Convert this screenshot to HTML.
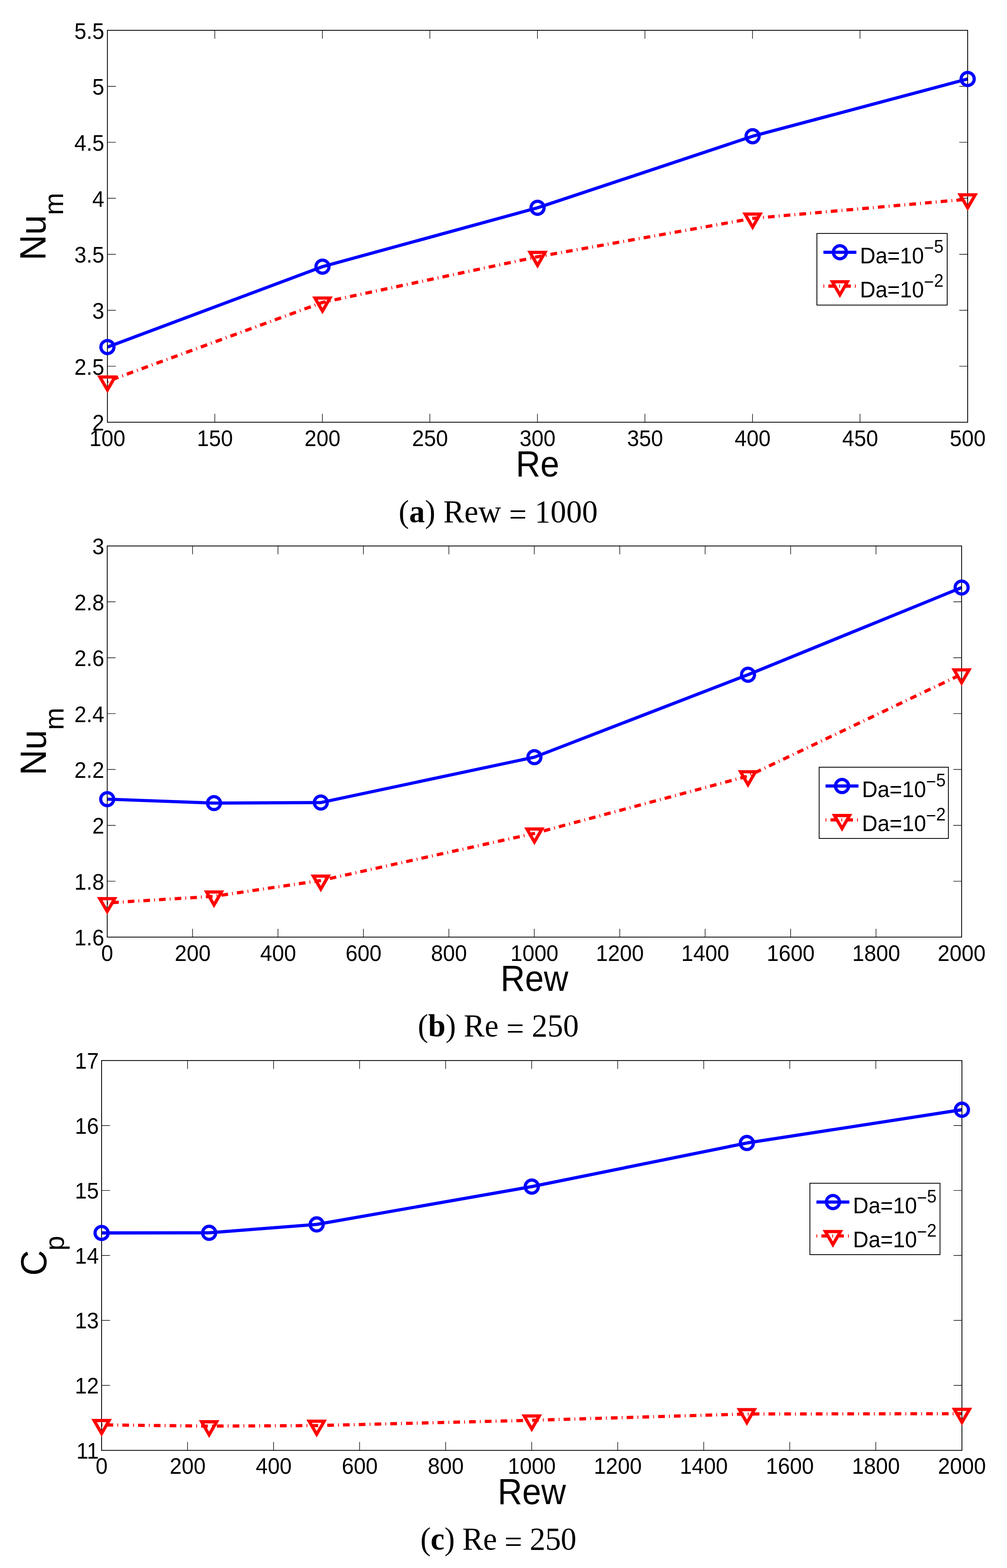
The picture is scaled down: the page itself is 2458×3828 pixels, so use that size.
<!DOCTYPE html>
<html lang="en"><head><meta charset="utf-8"><title>Figure</title>
<style>html,body{margin:0;padding:0;background:#fff}svg{display:block}</style>
</head><body>
<svg width="2458" height="3828" viewBox="0 0 2458 3828">
<rect width="2458" height="3828" fill="#fff"/>
<g id="plot1">
<clipPath id="clip1"><rect x="262.2" y="74" width="2099.8" height="956.8"/></clipPath>
<g clip-path="url(#clip1)" fill="none" stroke-width="7.8" stroke-linejoin="round">
<polyline points="262.2,847.3 787.15,651 1312.1,507.3 1837.05,332.6 2362,192.8" stroke="#0000ff"/>
<polyline points="262.2,930.9 787.15,738.3 1312.1,626.8 1837.05,533.2 2362,486.3" stroke="#ff0000" stroke-dasharray="2 10.05 16.38 10.05"/>
</g>
<path d="M524.38 1030.8v-20.5M524.38 74v20.5M786.85 1030.8v-20.5M786.85 74v20.5M1049.33 1030.8v-20.5M1049.33 74v20.5M1311.8 1030.8v-20.5M1311.8 74v20.5M1574.28 1030.8v-20.5M1574.28 74v20.5M1836.75 1030.8v-20.5M1836.75 74v20.5M2099.22 1030.8v-20.5M2099.22 74v20.5M262.2 894.11h20.5M2362 894.11h-20.5M262.2 757.43h20.5M2362 757.43h-20.5M262.2 620.74h20.5M2362 620.74h-20.5M262.2 484.06h20.5M2362 484.06h-20.5M262.2 347.37h20.5M2362 347.37h-20.5M262.2 210.69h20.5M2362 210.69h-20.5" fill="none" stroke="#000" stroke-width="1.4"/>
<rect x="262.2" y="74" width="2099.8" height="956.8" fill="none" stroke="#000" stroke-width="2"/>
<circle cx="262.2" cy="847.3" r="15.95" fill="none" stroke="#0000ff" stroke-width="7.8"/>
<circle cx="787.15" cy="651" r="15.95" fill="none" stroke="#0000ff" stroke-width="7.8"/>
<circle cx="1312.1" cy="507.3" r="15.95" fill="none" stroke="#0000ff" stroke-width="7.8"/>
<circle cx="1837.05" cy="332.6" r="15.95" fill="none" stroke="#0000ff" stroke-width="7.8"/>
<circle cx="2362" cy="192.8" r="15.95" fill="none" stroke="#0000ff" stroke-width="7.8"/>
<polygon points="243.84,920.3 280.56,920.3 262.2,952.1" fill="none" stroke="#ff0000" stroke-width="7.8" stroke-linejoin="miter" stroke-miterlimit="10"/>
<polygon points="768.79,727.7 805.51,727.7 787.15,759.5" fill="none" stroke="#ff0000" stroke-width="7.8" stroke-linejoin="miter" stroke-miterlimit="10"/>
<polygon points="1293.74,616.2 1330.46,616.2 1312.1,648" fill="none" stroke="#ff0000" stroke-width="7.8" stroke-linejoin="miter" stroke-miterlimit="10"/>
<polygon points="1818.69,522.6 1855.41,522.6 1837.05,554.4" fill="none" stroke="#ff0000" stroke-width="7.8" stroke-linejoin="miter" stroke-miterlimit="10"/>
<polygon points="2343.64,475.7 2380.36,475.7 2362,507.5" fill="none" stroke="#ff0000" stroke-width="7.8" stroke-linejoin="miter" stroke-miterlimit="10"/>
<g fill="#000">
<text transform="translate(262.2 1088.6) scale(1 1.045)" font-family='"Liberation Sans", "DejaVu Sans", sans-serif' font-size="52.6" text-anchor="middle">100</text>
<text transform="translate(524.67 1088.6) scale(1 1.045)" font-family='"Liberation Sans", "DejaVu Sans", sans-serif' font-size="52.6" text-anchor="middle">150</text>
<text transform="translate(787.15 1088.6) scale(1 1.045)" font-family='"Liberation Sans", "DejaVu Sans", sans-serif' font-size="52.6" text-anchor="middle">200</text>
<text transform="translate(1049.62 1088.6) scale(1 1.045)" font-family='"Liberation Sans", "DejaVu Sans", sans-serif' font-size="52.6" text-anchor="middle">250</text>
<text transform="translate(1312.1 1088.6) scale(1 1.045)" font-family='"Liberation Sans", "DejaVu Sans", sans-serif' font-size="52.6" text-anchor="middle">300</text>
<text transform="translate(1574.58 1088.6) scale(1 1.045)" font-family='"Liberation Sans", "DejaVu Sans", sans-serif' font-size="52.6" text-anchor="middle">350</text>
<text transform="translate(1837.05 1088.6) scale(1 1.045)" font-family='"Liberation Sans", "DejaVu Sans", sans-serif' font-size="52.6" text-anchor="middle">400</text>
<text transform="translate(2099.53 1088.6) scale(1 1.045)" font-family='"Liberation Sans", "DejaVu Sans", sans-serif' font-size="52.6" text-anchor="middle">450</text>
<text transform="translate(2362 1088.6) scale(1 1.045)" font-family='"Liberation Sans", "DejaVu Sans", sans-serif' font-size="52.6" text-anchor="middle">500</text>
<text transform="translate(254.5 1051.3) scale(1 1.045)" font-family='"Liberation Sans", "DejaVu Sans", sans-serif' font-size="52.6" text-anchor="end">2</text>
<text transform="translate(254.5 914.61) scale(1 1.045)" font-family='"Liberation Sans", "DejaVu Sans", sans-serif' font-size="52.6" text-anchor="end">2.5</text>
<text transform="translate(254.5 777.93) scale(1 1.045)" font-family='"Liberation Sans", "DejaVu Sans", sans-serif' font-size="52.6" text-anchor="end">3</text>
<text transform="translate(254.5 641.24) scale(1 1.045)" font-family='"Liberation Sans", "DejaVu Sans", sans-serif' font-size="52.6" text-anchor="end">3.5</text>
<text transform="translate(254.5 504.56) scale(1 1.045)" font-family='"Liberation Sans", "DejaVu Sans", sans-serif' font-size="52.6" text-anchor="end">4</text>
<text transform="translate(254.5 367.87) scale(1 1.045)" font-family='"Liberation Sans", "DejaVu Sans", sans-serif' font-size="52.6" text-anchor="end">4.5</text>
<text transform="translate(254.5 231.19) scale(1 1.045)" font-family='"Liberation Sans", "DejaVu Sans", sans-serif' font-size="52.6" text-anchor="end">5</text>
<text transform="translate(254.5 94.5) scale(1 1.045)" font-family='"Liberation Sans", "DejaVu Sans", sans-serif' font-size="52.6" text-anchor="end">5.5</text>
<text transform="translate(1312.1 1163) scale(1 1.075)" font-family='"Liberation Sans", "DejaVu Sans", sans-serif' font-size="83.2" text-anchor="middle">Re</text>
<text transform="translate(111.3 635.7) rotate(-90) scale(1 1.03)" font-family='"Liberation Sans", "DejaVu Sans", sans-serif' font-size="86.6">Nu<tspan font-size="65.2" dy="41.6">m</tspan></text>
</g>
<g>
<rect x="1994" y="569.9" width="318" height="174.9" fill="#fff" stroke="#000" stroke-width="2"/>
<path d="M2009.9 615.8H2090.3" stroke="#0000ff" stroke-width="7.8" fill="none"/>
<path d="M2009.9 698.5H2090.3" stroke="#ff0000" stroke-width="7.8" fill="none" stroke-dasharray="2 10.05 16.38 10.05"/>
<circle cx="2050.1" cy="615.8" r="15.95" fill="none" stroke="#0000ff" stroke-width="7.8"/>
<polygon points="2031.74,687.9 2068.46,687.9 2050.1,719.7" fill="none" stroke="#ff0000" stroke-width="7.8" stroke-linejoin="miter" stroke-miterlimit="10"/>
<text transform="translate(2098.9 643.2) scale(1 1.045)" font-family='"Liberation Sans", "DejaVu Sans", sans-serif' font-size="52.6" fill="#000">Da=10<tspan font-size="42" dy="-22.2">−</tspan><tspan font-size="42" dy="-2.8">5</tspan></text>
<text transform="translate(2098.9 726) scale(1 1.045)" font-family='"Liberation Sans", "DejaVu Sans", sans-serif' font-size="52.6" fill="#000">Da=10<tspan font-size="42" dy="-22.2">−</tspan><tspan font-size="42" dy="-2.8">2</tspan></text>
</g>
</g>
<text transform="translate(973 1274.6) scale(1 1.03)" font-family='"Liberation Serif", "DejaVu Serif", serif' font-size="76.5" fill="#000" textLength="486" lengthAdjust="spacing">(<tspan font-weight="bold">a</tspan>) Rew <tspan dy="7">=</tspan><tspan dy="-7"> 1000</tspan></text>
<g id="plot2">
<clipPath id="clip2"><rect x="261.7" y="1332.9" width="2085.5" height="954.9"/></clipPath>
<g clip-path="url(#clip2)" fill="none" stroke-width="7.75" stroke-linejoin="round">
<polyline points="261.7,1951 522.39,1960.6 783.08,1959.3 1304.45,1848.5 1825.83,1647.2 2347.2,1434.4" stroke="#0000ff"/>
<polyline points="261.7,2204.3 522.39,2188.2 783.08,2149.5 1304.45,2034.5 1825.83,1894.6 2347.2,1645.9" stroke="#ff0000" stroke-dasharray="1.9864 9.9817 16.2686 9.9817"/>
</g>
<path d="M469.95 2287.8v-20.36M469.95 1332.9v20.36M678.5 2287.8v-20.36M678.5 1332.9v20.36M887.05 2287.8v-20.36M887.05 1332.9v20.36M1095.6 2287.8v-20.36M1095.6 1332.9v20.36M1304.15 2287.8v-20.36M1304.15 1332.9v20.36M1512.7 2287.8v-20.36M1512.7 1332.9v20.36M1721.25 2287.8v-20.36M1721.25 1332.9v20.36M1929.8 2287.8v-20.36M1929.8 1332.9v20.36M2138.35 2287.8v-20.36M2138.35 1332.9v20.36M261.7 2151.39h20.36M2347.2 2151.39h-20.36M261.7 2014.97h20.36M2347.2 2014.97h-20.36M261.7 1878.56h20.36M2347.2 1878.56h-20.36M261.7 1742.14h20.36M2347.2 1742.14h-20.36M261.7 1605.73h20.36M2347.2 1605.73h-20.36M261.7 1469.31h20.36M2347.2 1469.31h-20.36" fill="none" stroke="#000" stroke-width="1.4"/>
<rect x="261.7" y="1332.9" width="2085.5" height="954.9" fill="none" stroke="#000" stroke-width="2"/>
<circle cx="261.7" cy="1951" r="15.84" fill="none" stroke="#0000ff" stroke-width="7.75"/>
<circle cx="522.39" cy="1960.6" r="15.84" fill="none" stroke="#0000ff" stroke-width="7.75"/>
<circle cx="783.08" cy="1959.3" r="15.84" fill="none" stroke="#0000ff" stroke-width="7.75"/>
<circle cx="1304.45" cy="1848.5" r="15.84" fill="none" stroke="#0000ff" stroke-width="7.75"/>
<circle cx="1825.83" cy="1647.2" r="15.84" fill="none" stroke="#0000ff" stroke-width="7.75"/>
<circle cx="2347.2" cy="1434.4" r="15.84" fill="none" stroke="#0000ff" stroke-width="7.75"/>
<polygon points="243.47,2193.77 279.93,2193.77 261.7,2225.36" fill="none" stroke="#ff0000" stroke-width="7.75" stroke-linejoin="miter" stroke-miterlimit="10"/>
<polygon points="504.15,2177.67 540.62,2177.67 522.39,2209.26" fill="none" stroke="#ff0000" stroke-width="7.75" stroke-linejoin="miter" stroke-miterlimit="10"/>
<polygon points="764.84,2138.97 801.31,2138.97 783.08,2170.56" fill="none" stroke="#ff0000" stroke-width="7.75" stroke-linejoin="miter" stroke-miterlimit="10"/>
<polygon points="1286.22,2023.97 1322.68,2023.97 1304.45,2055.56" fill="none" stroke="#ff0000" stroke-width="7.75" stroke-linejoin="miter" stroke-miterlimit="10"/>
<polygon points="1807.59,1884.07 1844.06,1884.07 1825.83,1915.66" fill="none" stroke="#ff0000" stroke-width="7.75" stroke-linejoin="miter" stroke-miterlimit="10"/>
<polygon points="2328.97,1635.37 2365.43,1635.37 2347.2,1666.96" fill="none" stroke="#ff0000" stroke-width="7.75" stroke-linejoin="miter" stroke-miterlimit="10"/>
<g fill="#000">
<text transform="translate(261.7 2345.6) scale(1 1.045)" font-family='"Liberation Sans", "DejaVu Sans", sans-serif' font-size="52.6" text-anchor="middle">0</text>
<text transform="translate(470.25 2345.6) scale(1 1.045)" font-family='"Liberation Sans", "DejaVu Sans", sans-serif' font-size="52.6" text-anchor="middle">200</text>
<text transform="translate(678.8 2345.6) scale(1 1.045)" font-family='"Liberation Sans", "DejaVu Sans", sans-serif' font-size="52.6" text-anchor="middle">400</text>
<text transform="translate(887.35 2345.6) scale(1 1.045)" font-family='"Liberation Sans", "DejaVu Sans", sans-serif' font-size="52.6" text-anchor="middle">600</text>
<text transform="translate(1095.9 2345.6) scale(1 1.045)" font-family='"Liberation Sans", "DejaVu Sans", sans-serif' font-size="52.6" text-anchor="middle">800</text>
<text transform="translate(1304.45 2345.6) scale(1 1.045)" font-family='"Liberation Sans", "DejaVu Sans", sans-serif' font-size="52.6" text-anchor="middle">1000</text>
<text transform="translate(1513 2345.6) scale(1 1.045)" font-family='"Liberation Sans", "DejaVu Sans", sans-serif' font-size="52.6" text-anchor="middle">1200</text>
<text transform="translate(1721.55 2345.6) scale(1 1.045)" font-family='"Liberation Sans", "DejaVu Sans", sans-serif' font-size="52.6" text-anchor="middle">1400</text>
<text transform="translate(1930.1 2345.6) scale(1 1.045)" font-family='"Liberation Sans", "DejaVu Sans", sans-serif' font-size="52.6" text-anchor="middle">1600</text>
<text transform="translate(2138.65 2345.6) scale(1 1.045)" font-family='"Liberation Sans", "DejaVu Sans", sans-serif' font-size="52.6" text-anchor="middle">1800</text>
<text transform="translate(2347.2 2345.6) scale(1 1.045)" font-family='"Liberation Sans", "DejaVu Sans", sans-serif' font-size="52.6" text-anchor="middle">2000</text>
<text transform="translate(254.5 2308.3) scale(1 1.045)" font-family='"Liberation Sans", "DejaVu Sans", sans-serif' font-size="52.6" text-anchor="end">1.6</text>
<text transform="translate(254.5 2171.89) scale(1 1.045)" font-family='"Liberation Sans", "DejaVu Sans", sans-serif' font-size="52.6" text-anchor="end">1.8</text>
<text transform="translate(254.5 2035.47) scale(1 1.045)" font-family='"Liberation Sans", "DejaVu Sans", sans-serif' font-size="52.6" text-anchor="end">2</text>
<text transform="translate(254.5 1899.06) scale(1 1.045)" font-family='"Liberation Sans", "DejaVu Sans", sans-serif' font-size="52.6" text-anchor="end">2.2</text>
<text transform="translate(254.5 1762.64) scale(1 1.045)" font-family='"Liberation Sans", "DejaVu Sans", sans-serif' font-size="52.6" text-anchor="end">2.4</text>
<text transform="translate(254.5 1626.23) scale(1 1.045)" font-family='"Liberation Sans", "DejaVu Sans", sans-serif' font-size="52.6" text-anchor="end">2.6</text>
<text transform="translate(254.5 1489.81) scale(1 1.045)" font-family='"Liberation Sans", "DejaVu Sans", sans-serif' font-size="52.6" text-anchor="end">2.8</text>
<text transform="translate(254.5 1353.4) scale(1 1.045)" font-family='"Liberation Sans", "DejaVu Sans", sans-serif' font-size="52.6" text-anchor="end">3</text>
<text transform="translate(1304.45 2419) scale(1 1.075)" font-family='"Liberation Sans", "DejaVu Sans", sans-serif' font-size="82.63" text-anchor="middle">Rew</text>
<text transform="translate(112.2 1892.8) rotate(-90) scale(1 1.03)" font-family='"Liberation Sans", "DejaVu Sans", sans-serif' font-size="86.6">Nu<tspan font-size="65.2" dy="41.6">m</tspan></text>
</g>
<g>
<rect x="1999.5" y="1873" width="315.4" height="173.9" fill="#fff" stroke="#000" stroke-width="2"/>
<path d="M2015.1 1918.9H2095.5" stroke="#0000ff" stroke-width="7.8" fill="none"/>
<path d="M2015.1 2001.6H2095.5" stroke="#ff0000" stroke-width="7.8" fill="none" stroke-dasharray="2 10.05 16.38 10.05"/>
<circle cx="2055.3" cy="1918.9" r="15.95" fill="none" stroke="#0000ff" stroke-width="7.8"/>
<polygon points="2036.94,1991 2073.66,1991 2055.3,2022.8" fill="none" stroke="#ff0000" stroke-width="7.8" stroke-linejoin="miter" stroke-miterlimit="10"/>
<text transform="translate(2104.1 1946.3) scale(1 1.045)" font-family='"Liberation Sans", "DejaVu Sans", sans-serif' font-size="52.6" fill="#000">Da=10<tspan font-size="42" dy="-22.2">−</tspan><tspan font-size="42" dy="-2.8">5</tspan></text>
<text transform="translate(2104.1 2029.1) scale(1 1.045)" font-family='"Liberation Sans", "DejaVu Sans", sans-serif' font-size="52.6" fill="#000">Da=10<tspan font-size="42" dy="-22.2">−</tspan><tspan font-size="42" dy="-2.8">2</tspan></text>
</g>
</g>
<text transform="translate(1019.7 2530.2) scale(1 1.03)" font-family='"Liberation Serif", "DejaVu Serif", serif' font-size="76.5" fill="#000" textLength="393" lengthAdjust="spacing">(<tspan font-weight="bold">b</tspan>) Re <tspan dy="7">=</tspan><tspan dy="-7"> 250</tspan></text>
<g id="plot3">
<clipPath id="clip3"><rect x="248" y="2589.1" width="2100" height="951.7"/></clipPath>
<g clip-path="url(#clip3)" fill="none" stroke-width="7.8" stroke-linejoin="round">
<polyline points="248,3010 510.5,3009.7 773,2989.2 1298,2896.9 1823,2790.45 2348,2709.2" stroke="#0000ff"/>
<polyline points="248,3478.6 510.5,3481.6 773,3480.3 1298,3467.4 1823,3452 2348,3451.25" stroke="#ff0000" stroke-dasharray="2 10.05 16.38 10.05"/>
</g>
<path d="M457.7 3540.8v-20.5M457.7 2589.1v20.5M667.7 3540.8v-20.5M667.7 2589.1v20.5M877.7 3540.8v-20.5M877.7 2589.1v20.5M1087.7 3540.8v-20.5M1087.7 2589.1v20.5M1297.7 3540.8v-20.5M1297.7 2589.1v20.5M1507.7 3540.8v-20.5M1507.7 2589.1v20.5M1717.7 3540.8v-20.5M1717.7 2589.1v20.5M1927.7 3540.8v-20.5M1927.7 2589.1v20.5M2137.7 3540.8v-20.5M2137.7 2589.1v20.5M248 3382.18h20.5M2348 3382.18h-20.5M248 3223.57h20.5M2348 3223.57h-20.5M248 3064.95h20.5M2348 3064.95h-20.5M248 2906.33h20.5M2348 2906.33h-20.5M248 2747.72h20.5M2348 2747.72h-20.5" fill="none" stroke="#000" stroke-width="1.4"/>
<rect x="248" y="2589.1" width="2100" height="951.7" fill="none" stroke="#000" stroke-width="2"/>
<circle cx="248" cy="3010" r="15.95" fill="none" stroke="#0000ff" stroke-width="7.8"/>
<circle cx="510.5" cy="3009.7" r="15.95" fill="none" stroke="#0000ff" stroke-width="7.8"/>
<circle cx="773" cy="2989.2" r="15.95" fill="none" stroke="#0000ff" stroke-width="7.8"/>
<circle cx="1298" cy="2896.9" r="15.95" fill="none" stroke="#0000ff" stroke-width="7.8"/>
<circle cx="1823" cy="2790.45" r="15.95" fill="none" stroke="#0000ff" stroke-width="7.8"/>
<circle cx="2348" cy="2709.2" r="15.95" fill="none" stroke="#0000ff" stroke-width="7.8"/>
<polygon points="229.64,3468 266.36,3468 248,3499.8" fill="none" stroke="#ff0000" stroke-width="7.8" stroke-linejoin="miter" stroke-miterlimit="10"/>
<polygon points="492.14,3471 528.86,3471 510.5,3502.8" fill="none" stroke="#ff0000" stroke-width="7.8" stroke-linejoin="miter" stroke-miterlimit="10"/>
<polygon points="754.64,3469.7 791.36,3469.7 773,3501.5" fill="none" stroke="#ff0000" stroke-width="7.8" stroke-linejoin="miter" stroke-miterlimit="10"/>
<polygon points="1279.64,3456.8 1316.36,3456.8 1298,3488.6" fill="none" stroke="#ff0000" stroke-width="7.8" stroke-linejoin="miter" stroke-miterlimit="10"/>
<polygon points="1804.64,3441.4 1841.36,3441.4 1823,3473.2" fill="none" stroke="#ff0000" stroke-width="7.8" stroke-linejoin="miter" stroke-miterlimit="10"/>
<polygon points="2329.64,3440.65 2366.36,3440.65 2348,3472.45" fill="none" stroke="#ff0000" stroke-width="7.8" stroke-linejoin="miter" stroke-miterlimit="10"/>
<g fill="#000">
<text transform="translate(248 3597.5) scale(1 1.045)" font-family='"Liberation Sans", "DejaVu Sans", sans-serif' font-size="52.6" text-anchor="middle">0</text>
<text transform="translate(458 3597.5) scale(1 1.045)" font-family='"Liberation Sans", "DejaVu Sans", sans-serif' font-size="52.6" text-anchor="middle">200</text>
<text transform="translate(668 3597.5) scale(1 1.045)" font-family='"Liberation Sans", "DejaVu Sans", sans-serif' font-size="52.6" text-anchor="middle">400</text>
<text transform="translate(878 3597.5) scale(1 1.045)" font-family='"Liberation Sans", "DejaVu Sans", sans-serif' font-size="52.6" text-anchor="middle">600</text>
<text transform="translate(1088 3597.5) scale(1 1.045)" font-family='"Liberation Sans", "DejaVu Sans", sans-serif' font-size="52.6" text-anchor="middle">800</text>
<text transform="translate(1298 3597.5) scale(1 1.045)" font-family='"Liberation Sans", "DejaVu Sans", sans-serif' font-size="52.6" text-anchor="middle">1000</text>
<text transform="translate(1508 3597.5) scale(1 1.045)" font-family='"Liberation Sans", "DejaVu Sans", sans-serif' font-size="52.6" text-anchor="middle">1200</text>
<text transform="translate(1718 3597.5) scale(1 1.045)" font-family='"Liberation Sans", "DejaVu Sans", sans-serif' font-size="52.6" text-anchor="middle">1400</text>
<text transform="translate(1928 3597.5) scale(1 1.045)" font-family='"Liberation Sans", "DejaVu Sans", sans-serif' font-size="52.6" text-anchor="middle">1600</text>
<text transform="translate(2138 3597.5) scale(1 1.045)" font-family='"Liberation Sans", "DejaVu Sans", sans-serif' font-size="52.6" text-anchor="middle">1800</text>
<text transform="translate(2348 3597.5) scale(1 1.045)" font-family='"Liberation Sans", "DejaVu Sans", sans-serif' font-size="52.6" text-anchor="middle">2000</text>
<text transform="translate(241.2 3560.6) scale(1 1.045)" font-family='"Liberation Sans", "DejaVu Sans", sans-serif' font-size="52.6" text-anchor="end">11</text>
<text transform="translate(241.2 3401.98) scale(1 1.045)" font-family='"Liberation Sans", "DejaVu Sans", sans-serif' font-size="52.6" text-anchor="end">12</text>
<text transform="translate(241.2 3243.37) scale(1 1.045)" font-family='"Liberation Sans", "DejaVu Sans", sans-serif' font-size="52.6" text-anchor="end">13</text>
<text transform="translate(241.2 3084.75) scale(1 1.045)" font-family='"Liberation Sans", "DejaVu Sans", sans-serif' font-size="52.6" text-anchor="end">14</text>
<text transform="translate(241.2 2926.13) scale(1 1.045)" font-family='"Liberation Sans", "DejaVu Sans", sans-serif' font-size="52.6" text-anchor="end">15</text>
<text transform="translate(241.2 2767.52) scale(1 1.045)" font-family='"Liberation Sans", "DejaVu Sans", sans-serif' font-size="52.6" text-anchor="end">16</text>
<text transform="translate(241.2 2608.9) scale(1 1.045)" font-family='"Liberation Sans", "DejaVu Sans", sans-serif' font-size="52.6" text-anchor="end">17</text>
<text transform="translate(1298 3672) scale(1 1.075)" font-family='"Liberation Sans", "DejaVu Sans", sans-serif' font-size="83.2" text-anchor="middle">Rew</text>
<text transform="translate(113.3 3114.4) rotate(-90) scale(1 1.03)" font-family='"Liberation Sans", "DejaVu Sans", sans-serif' font-size="86.6">C<tspan font-size="65.2" dx="-1.5" dy="41.6">p</tspan></text>
</g>
<g>
<rect x="1976.9" y="2888.7" width="317.6" height="174.3" fill="#fff" stroke="#000" stroke-width="2"/>
<path d="M1992.9 2934.6H2073.3" stroke="#0000ff" stroke-width="7.8" fill="none"/>
<path d="M1992.9 3017.3H2073.3" stroke="#ff0000" stroke-width="7.8" fill="none" stroke-dasharray="2 10.05 16.38 10.05"/>
<circle cx="2033.1" cy="2934.6" r="15.95" fill="none" stroke="#0000ff" stroke-width="7.8"/>
<polygon points="2014.74,3006.7 2051.46,3006.7 2033.1,3038.5" fill="none" stroke="#ff0000" stroke-width="7.8" stroke-linejoin="miter" stroke-miterlimit="10"/>
<text transform="translate(2081.9 2962) scale(1 1.045)" font-family='"Liberation Sans", "DejaVu Sans", sans-serif' font-size="52.6" fill="#000">Da=10<tspan font-size="42" dy="-22.2">−</tspan><tspan font-size="42" dy="-2.8">5</tspan></text>
<text transform="translate(2081.9 3044.8) scale(1 1.045)" font-family='"Liberation Sans", "DejaVu Sans", sans-serif' font-size="52.6" fill="#000">Da=10<tspan font-size="42" dy="-22.2">−</tspan><tspan font-size="42" dy="-2.8">2</tspan></text>
</g>
</g>
<text transform="translate(1026 3782.9) scale(1 1.03)" font-family='"Liberation Serif", "DejaVu Serif", serif' font-size="76.5" fill="#000" textLength="381" lengthAdjust="spacing">(<tspan font-weight="bold">c</tspan>) Re <tspan dy="7">=</tspan><tspan dy="-7"> 250</tspan></text>
</svg>
</body></html>
